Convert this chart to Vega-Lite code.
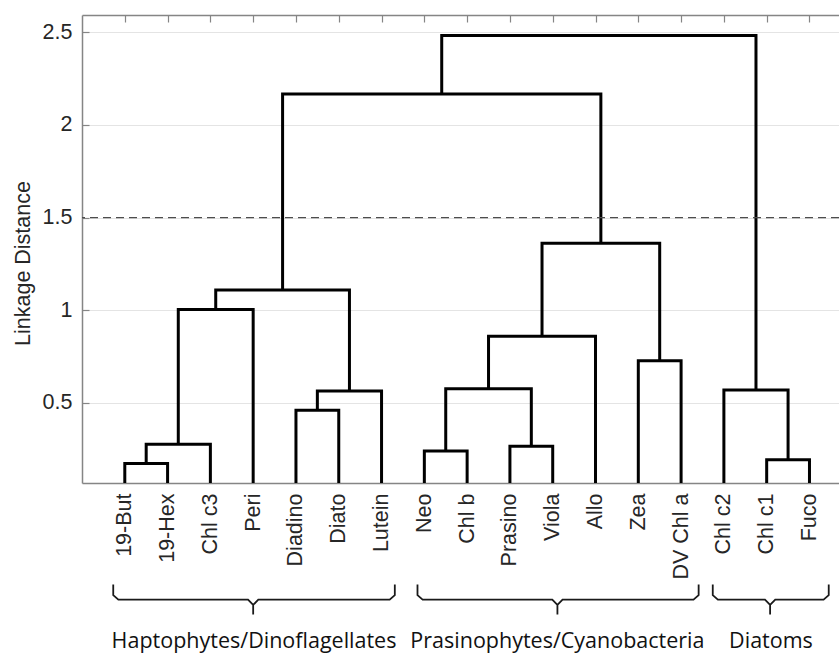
{
  "$schema": "https://vega.github.io/schema/vega-lite/v6.json",
  "width": 757,
  "height": 468,
  "autosize": {"type": "none"},
  "padding": {"left": 82, "top": 15, "right": 0, "bottom": 171},
  "background": "white",
  "config": {
    "view": {"stroke": null},
    "font": "Liberation Sans",
    "axis": {
      "labelFont": "Liberation Sans",
      "titleFont": "Liberation Sans",
      "labelFontSize": 21.5,
      "titleFontSize": 21.5,
      "labelColor": "#262626",
      "titleColor": "#262626",
      "titleFontWeight": "normal",
      "domainColor": "#858585",
      "domainWidth": 1.5,
      "tickColor": "#858585",
      "tickWidth": 1.2,
      "gridColor": "#e4e4e4",
      "gridWidth": 1
    }
  },
  "datasets": {
    "links": [
      {"link": "L1", "o": 1, "x": 1, "y": 0}, {"link": "L1", "o": 2, "x": 1, "y": 0.173}, {"link": "L1", "o": 3, "x": 2, "y": 0.173}, {"link": "L1", "o": 4, "x": 2, "y": 0},
      {"link": "L2", "o": 1, "x": 1.5, "y": 0.173}, {"link": "L2", "o": 2, "x": 1.5, "y": 0.277}, {"link": "L2", "o": 3, "x": 3, "y": 0.277}, {"link": "L2", "o": 4, "x": 3, "y": 0},
      {"link": "L3", "o": 1, "x": 2.25, "y": 0.277}, {"link": "L3", "o": 2, "x": 2.25, "y": 1.004}, {"link": "L3", "o": 3, "x": 4, "y": 1.004}, {"link": "L3", "o": 4, "x": 4, "y": 0},
      {"link": "L4", "o": 1, "x": 5, "y": 0}, {"link": "L4", "o": 2, "x": 5, "y": 0.461}, {"link": "L4", "o": 3, "x": 6, "y": 0.461}, {"link": "L4", "o": 4, "x": 6, "y": 0},
      {"link": "L5", "o": 1, "x": 5.5, "y": 0.461}, {"link": "L5", "o": 2, "x": 5.5, "y": 0.565}, {"link": "L5", "o": 3, "x": 7, "y": 0.565}, {"link": "L5", "o": 4, "x": 7, "y": 0},
      {"link": "L6", "o": 1, "x": 3.125, "y": 1.004}, {"link": "L6", "o": 2, "x": 3.125, "y": 1.109}, {"link": "L6", "o": 3, "x": 6.25, "y": 1.109}, {"link": "L6", "o": 4, "x": 6.25, "y": 0.565},
      {"link": "L7", "o": 1, "x": 8, "y": 0}, {"link": "L7", "o": 2, "x": 8, "y": 0.241}, {"link": "L7", "o": 3, "x": 9, "y": 0.241}, {"link": "L7", "o": 4, "x": 9, "y": 0},
      {"link": "L8", "o": 1, "x": 10, "y": 0}, {"link": "L8", "o": 2, "x": 10, "y": 0.266}, {"link": "L8", "o": 3, "x": 11, "y": 0.266}, {"link": "L8", "o": 4, "x": 11, "y": 0},
      {"link": "L9", "o": 1, "x": 8.5, "y": 0.241}, {"link": "L9", "o": 2, "x": 8.5, "y": 0.576}, {"link": "L9", "o": 3, "x": 10.5, "y": 0.576}, {"link": "L9", "o": 4, "x": 10.5, "y": 0.266},
      {"link": "L10", "o": 1, "x": 9.5, "y": 0.576}, {"link": "L10", "o": 2, "x": 9.5, "y": 0.86}, {"link": "L10", "o": 3, "x": 12, "y": 0.86}, {"link": "L10", "o": 4, "x": 12, "y": 0},
      {"link": "L11", "o": 1, "x": 13, "y": 0}, {"link": "L11", "o": 2, "x": 13, "y": 0.727}, {"link": "L11", "o": 3, "x": 14, "y": 0.727}, {"link": "L11", "o": 4, "x": 14, "y": 0},
      {"link": "L12", "o": 1, "x": 10.75, "y": 0.86}, {"link": "L12", "o": 2, "x": 10.75, "y": 1.362}, {"link": "L12", "o": 3, "x": 13.5, "y": 1.362}, {"link": "L12", "o": 4, "x": 13.5, "y": 0.727},
      {"link": "L13", "o": 1, "x": 4.6875, "y": 1.109}, {"link": "L13", "o": 2, "x": 4.6875, "y": 2.167}, {"link": "L13", "o": 3, "x": 12.125, "y": 2.167}, {"link": "L13", "o": 4, "x": 12.125, "y": 1.362},
      {"link": "L14", "o": 1, "x": 16, "y": 0}, {"link": "L14", "o": 2, "x": 16, "y": 0.194}, {"link": "L14", "o": 3, "x": 17, "y": 0.194}, {"link": "L14", "o": 4, "x": 17, "y": 0},
      {"link": "L15", "o": 1, "x": 15, "y": 0}, {"link": "L15", "o": 2, "x": 15, "y": 0.57}, {"link": "L15", "o": 3, "x": 16.5, "y": 0.57}, {"link": "L15", "o": 4, "x": 16.5, "y": 0.194},
      {"link": "L16", "o": 1, "x": 8.40625, "y": 2.167}, {"link": "L16", "o": 2, "x": 8.40625, "y": 2.482}, {"link": "L16", "o": 3, "x": 15.75, "y": 2.482}, {"link": "L16", "o": 4, "x": 15.75, "y": 0.57}
    ],
    "cutoff": [{"y": 1.5}],
    "brackets": [
      {"g": "H", "o": 1, "x": 0.73, "y": -0.479}, {"g": "H", "o": 2, "x": 0.73, "y": -0.537}, {"g": "H", "o": 3, "x": 0.85, "y": -0.561}, {"g": "H", "o": 4, "x": 3.88, "y": -0.561}, {"g": "H", "o": 5, "x": 4.0, "y": -0.59}, {"g": "H", "o": 6, "x": 4.0, "y": -0.641}, {"g": "H", "o": 7, "x": 4.0, "y": -0.59}, {"g": "H", "o": 8, "x": 4.12, "y": -0.561}, {"g": "H", "o": 9, "x": 7.19, "y": -0.561}, {"g": "H", "o": 10, "x": 7.31, "y": -0.537}, {"g": "H", "o": 11, "x": 7.31, "y": -0.479},
      {"g": "P", "o": 1, "x": 7.84, "y": -0.479}, {"g": "P", "o": 2, "x": 7.84, "y": -0.537}, {"g": "P", "o": 3, "x": 7.96, "y": -0.561}, {"g": "P", "o": 4, "x": 10.99, "y": -0.561}, {"g": "P", "o": 5, "x": 11.11, "y": -0.59}, {"g": "P", "o": 6, "x": 11.11, "y": -0.641}, {"g": "P", "o": 7, "x": 11.11, "y": -0.59}, {"g": "P", "o": 8, "x": 11.23, "y": -0.561}, {"g": "P", "o": 9, "x": 14.29, "y": -0.561}, {"g": "P", "o": 10, "x": 14.41, "y": -0.537}, {"g": "P", "o": 11, "x": 14.41, "y": -0.479},
      {"g": "D", "o": 1, "x": 14.74, "y": -0.479}, {"g": "D", "o": 2, "x": 14.74, "y": -0.537}, {"g": "D", "o": 3, "x": 14.86, "y": -0.561}, {"g": "D", "o": 4, "x": 15.96, "y": -0.561}, {"g": "D", "o": 5, "x": 16.08, "y": -0.59}, {"g": "D", "o": 6, "x": 16.08, "y": -0.641}, {"g": "D", "o": 7, "x": 16.08, "y": -0.59}, {"g": "D", "o": 8, "x": 16.2, "y": -0.561}, {"g": "D", "o": 9, "x": 17.33, "y": -0.561}, {"g": "D", "o": 10, "x": 17.45, "y": -0.537}, {"g": "D", "o": 11, "x": 17.45, "y": -0.479}
    ],
    "groups": [
      {"name": "Haptophytes/Dinoflagellates", "x": 4.02, "y": -0.79},
      {"name": "Prasinophytes/Cyanobacteria", "x": 11.11, "y": -0.79},
      {"name": "Diatoms", "x": 16.1, "y": -0.79}
    ]
  },
  "resolve": {"axis": {"x": "independent", "y": "independent"}},
  "layer": [
    {
      "data": {"name": "links"},
      "mark": {"type": "line", "color": "black", "strokeWidth": 3, "clip": true},
      "encoding": {
        "x": {
          "field": "x", "type": "quantitative",
          "scale": {"domain": [0, 17.69], "nice": false, "zero": false},
          "axis": {
            "orient": "bottom", "title": null, "values": [1, 2, 3, 4, 5, 6, 7, 8, 9, 10, 11, 12, 13, 14, 15, 16, 17],
            "labelExpr": "['', '19-But', '19-Hex', 'Chl c3', 'Peri', 'Diadino', 'Diato', 'Lutein', 'Neo', 'Chl b', 'Prasino', 'Viola', 'Allo', 'Zea', 'DV Chl a', 'Chl c2', 'Chl c1', 'Fuco'][datum.value]",
            "labelAngle": -90, "labelPadding": 10, "ticks": false, "grid": false, "labelFlush": false, "labelOverlap": false
          }
        },
        "y": {
          "field": "y", "type": "quantitative",
          "scale": {"domain": [0.068, 2.593], "nice": false, "zero": false},
          "axis": {
            "orient": "left", "title": "Linkage Distance", "values": [0.5, 1, 1.5, 2, 2.5], "format": "~g",
            "tickSize": -7, "labelPadding": 17, "titlePadding": 8, "titleY": 248, "grid": true, "labelFlush": false
          }
        },
        "detail": {"field": "link"},
        "order": {"field": "o"}
      }
    },
    {
      "data": {"name": "cutoff"},
      "mark": {"type": "rule", "color": "#4d4d4d", "strokeWidth": 1.3, "strokeDash": [8, 5]},
      "encoding": {"y": {"field": "y", "type": "quantitative", "axis": null}}
    },
    {
      "data": {"name": "brackets"},
      "mark": {"type": "line", "color": "#1a1a1a", "strokeWidth": 1.8},
      "encoding": {
        "x": {
          "field": "x", "type": "quantitative",
          "axis": {
            "orient": "top", "title": null, "values": [1, 2, 3, 4, 5, 6, 7, 8, 9, 10, 11, 12, 13, 14, 15, 16, 17],
            "labels": false, "tickSize": -7, "grid": false
          }
        },
        "y": {"field": "y", "type": "quantitative", "axis": null},
        "detail": {"field": "g"},
        "order": {"field": "o"}
      }
    },
    {
      "data": {"name": "groups"},
      "mark": {"type": "text", "font": "Open Sans", "fontSize": 21.5, "color": "#111111", "baseline": "middle", "align": "center"},
      "encoding": {
        "x": {"field": "x", "type": "quantitative", "axis": null},
        "y": {"field": "y", "type": "quantitative", "axis": null},
        "text": {"field": "name"}
      }
    }
  ]
}
